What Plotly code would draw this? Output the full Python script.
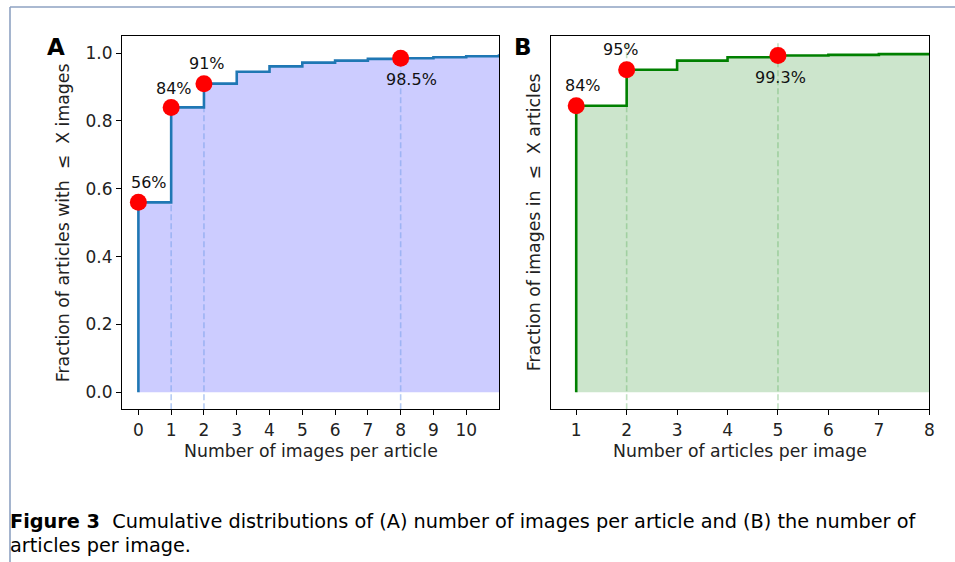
import plotly.graph_objects as go

# ---------------- data ----------------
# Panel A: cumulative fraction of articles with <= X images
a_x = [0, 0, 1, 2, 3, 4, 5, 6, 7, 8, 9, 10, 11, 12]
a_y = [0.0, 0.56, 0.84, 0.91, 0.945, 0.961, 0.972, 0.978, 0.983, 0.985, 0.988, 0.991, 0.993, 0.994]
a_mark_x = [0, 1, 2, 8]
a_mark_y = [0.56, 0.84, 0.91, 0.985]
a_mark_text = ["56%", "84%", "91%", "98.5%"]
a_dash_x = [1, 2, 8]
a_dash_top = [0.84, 0.91, 0.985]
a_xticks = [0, 1, 2, 3, 4, 5, 6, 7, 8, 9, 10]

# Panel B: cumulative fraction of images in <= X articles
b_x = [1, 1, 2, 3, 4, 5, 6, 7, 8]
b_y = [0.0, 0.845, 0.951, 0.978, 0.988, 0.993, 0.995, 0.997, 0.998]
b_mark_x = [1, 2, 5]
b_mark_y = [0.845, 0.951, 0.993]
b_mark_text = ["84%", "95%", "99.3%"]
b_dash_x = [2, 5]
b_dash_top = [1.03, 1.03]
b_xticks = [1, 2, 3, 4, 5, 6, 7, 8]

y_ticks = [0.0, 0.2, 0.4, 0.6, 0.8, 1.0]
y_range = [-0.05, 1.05]

caption_lines = [
    "<b>Figure 3</b>  Cumulative distributions of (A) number of images per article and (B) the number of",
    "articles per image.",
]

REF_W, REF_H = 955, 562      # reference picture coordinates used for layout fractions
FIG_W, FIG_H = 960, 565      # captured area is slightly larger than the window
FONT = "DejaVu Sans"


def px(x):
    return x / REF_W


def py(y):
    return 1 - y / REF_H


fig = go.Figure()

# ---------- Panel A ----------
fig.add_trace(go.Scatter(x=a_x, y=a_y, mode="lines", line=dict(width=0, shape="hv"),
                         fill="tozeroy", fillcolor="#ccccff", xaxis="x", yaxis="y",
                         hoverinfo="skip", showlegend=False))
for xv, top in zip(a_dash_x, a_dash_top):
    fig.add_trace(go.Scatter(x=[xv, xv], y=[y_range[0], top], mode="lines",
                             line=dict(color="rgba(120,160,235,0.55)", width=1.6, dash="6px,3px"),
                             xaxis="x", yaxis="y", hoverinfo="skip", showlegend=False))
fig.add_trace(go.Scatter(x=a_x, y=a_y, mode="lines", line=dict(width=2.6, shape="hv", color="#1f77b4"),
                         xaxis="x", yaxis="y", showlegend=False))
fig.add_trace(go.Scatter(x=a_mark_x, y=a_mark_y, mode="markers",
                         marker=dict(color="#ff0000", size=17, line=dict(width=0)),
                         xaxis="x", yaxis="y", cliponaxis=False, showlegend=False))

# ---------- Panel B ----------
fig.add_trace(go.Scatter(x=b_x, y=b_y, mode="lines", line=dict(width=0, shape="hv"),
                         fill="tozeroy", fillcolor="#cce5cc", xaxis="x2", yaxis="y2",
                         hoverinfo="skip", showlegend=False))
for xv, top in zip(b_dash_x, b_dash_top):
    fig.add_trace(go.Scatter(x=[xv, xv], y=[y_range[0], top], mode="lines",
                             line=dict(color="rgba(80,170,80,0.35)", width=1.6, dash="6px,3px"),
                             xaxis="x2", yaxis="y2", hoverinfo="skip", showlegend=False))
fig.add_trace(go.Scatter(x=b_x, y=b_y, mode="lines", line=dict(width=2.6, shape="hv", color="#008000"),
                         xaxis="x2", yaxis="y2", showlegend=False))
fig.add_trace(go.Scatter(x=b_mark_x, y=b_mark_y, mode="markers",
                         marker=dict(color="#ff0000", size=17, line=dict(width=0)),
                         xaxis="x2", yaxis="y2", cliponaxis=False, showlegend=False))

# ---------- axes ----------
axis_common = dict(showline=True, mirror=True, linecolor="black", linewidth=1.2,
                   showgrid=False, zeroline=False, ticks="outside", ticklen=5,
                   tickcolor="black", tickwidth=1.2,
                   tickfont=dict(family=FONT, size=17, color="#222"))
ydom = [py(407), py(36)]
fig.update_layout(
    xaxis=dict(domain=[px(122), px(499)], range=[-0.5, 11], tickvals=a_xticks,
               anchor="y", **axis_common),
    yaxis=dict(domain=ydom, range=y_range, tickvals=y_ticks, tickformat=".1f",
               anchor="x", **axis_common),
    xaxis2=dict(domain=[px(551), px(929.3)], range=[0.5, 8], tickvals=b_xticks,
                anchor="y2", **axis_common),
    yaxis2=dict(domain=ydom, range=y_range, anchor="x2", showline=True, mirror=True,
                linecolor="black", linewidth=1.2, showgrid=False, zeroline=False,
                showticklabels=False, ticks=""),
)

ann = []
# point labels
a_shifts = [(11, 20), (3, 19), (3, 20), (11, -21)]
for xv, yv, t, (sx, sy) in zip(a_mark_x, a_mark_y, a_mark_text, a_shifts):
    ann.append(dict(x=xv, y=yv, xref="x", yref="y", text=t, showarrow=False,
                    xanchor="center", yanchor="middle",
                    xshift=sx, yshift=sy, font=dict(family=FONT, size=16, color="#111")))
b_shifts = [(7, 20), (-6, 20), (3, -22)]
for xv, yv, t, (sx, sy) in zip(b_mark_x, b_mark_y, b_mark_text, b_shifts):
    ann.append(dict(x=xv, y=yv, xref="x2", yref="y2", text=t, showarrow=False,
                    xanchor="center", yanchor="middle",
                    xshift=sx, yshift=sy, font=dict(family=FONT, size=16, color="#111")))

title_font = dict(family=FONT, size=17.3, color="#222")


def label(x, y, text, **kw):
    d = dict(x=px(x), y=py(y), xref="paper", yref="paper", text=text, showarrow=False,
             xanchor="center", yanchor="middle")
    d.update(kw)
    return d


cap_font = dict(family=FONT, size=19.3, color="black")
ann += [
    label(310.5, 449, "Number of images per article", font=title_font),
    label(740, 449, "Number of articles per image", font=title_font),
    label(63, 222, "Fraction of articles with  ≤  X images", textangle=-90, font=title_font),
    label(534, 221, "Fraction of images in  ≤  X articles", textangle=-90, font=title_font),
    label(56, 47, "<b>A</b>", font=dict(family=FONT, size=23, color="black")),
    label(523, 47, "<b>B</b>", font=dict(family=FONT, size=23, color="black")),
    label(8, 519, caption_lines[0], xanchor="left", align="left", font=cap_font),
    label(8, 543, caption_lines[1], xanchor="left", align="left", font=cap_font),
]

shapes = [
    dict(type="line", xref="paper", yref="paper", x0=px(10), x1=1, y0=py(7), y1=py(7),
         line=dict(color="#8ea2c2", width=1.6), layer="above"),
    dict(type="line", xref="paper", yref="paper", x0=px(10), x1=px(10), y0=py(7), y1=0,
         line=dict(color="#8ea2c2", width=1.6), layer="above"),
]

fig.update_layout(width=FIG_W, height=FIG_H, margin=dict(l=0, r=0, t=0, b=0),
                  paper_bgcolor="white", plot_bgcolor="white",
                  annotations=ann, shapes=shapes, showlegend=False)

fig.write_html(
    "out.html",
    config={"displayModeBar": False},
    post_script=(
        "document.documentElement.style.margin='0px';"
        "document.body.style.margin='0px';"
        "document.documentElement.style.overflow='hidden';"
        "document.body.style.overflow='hidden';"
    ),
)
